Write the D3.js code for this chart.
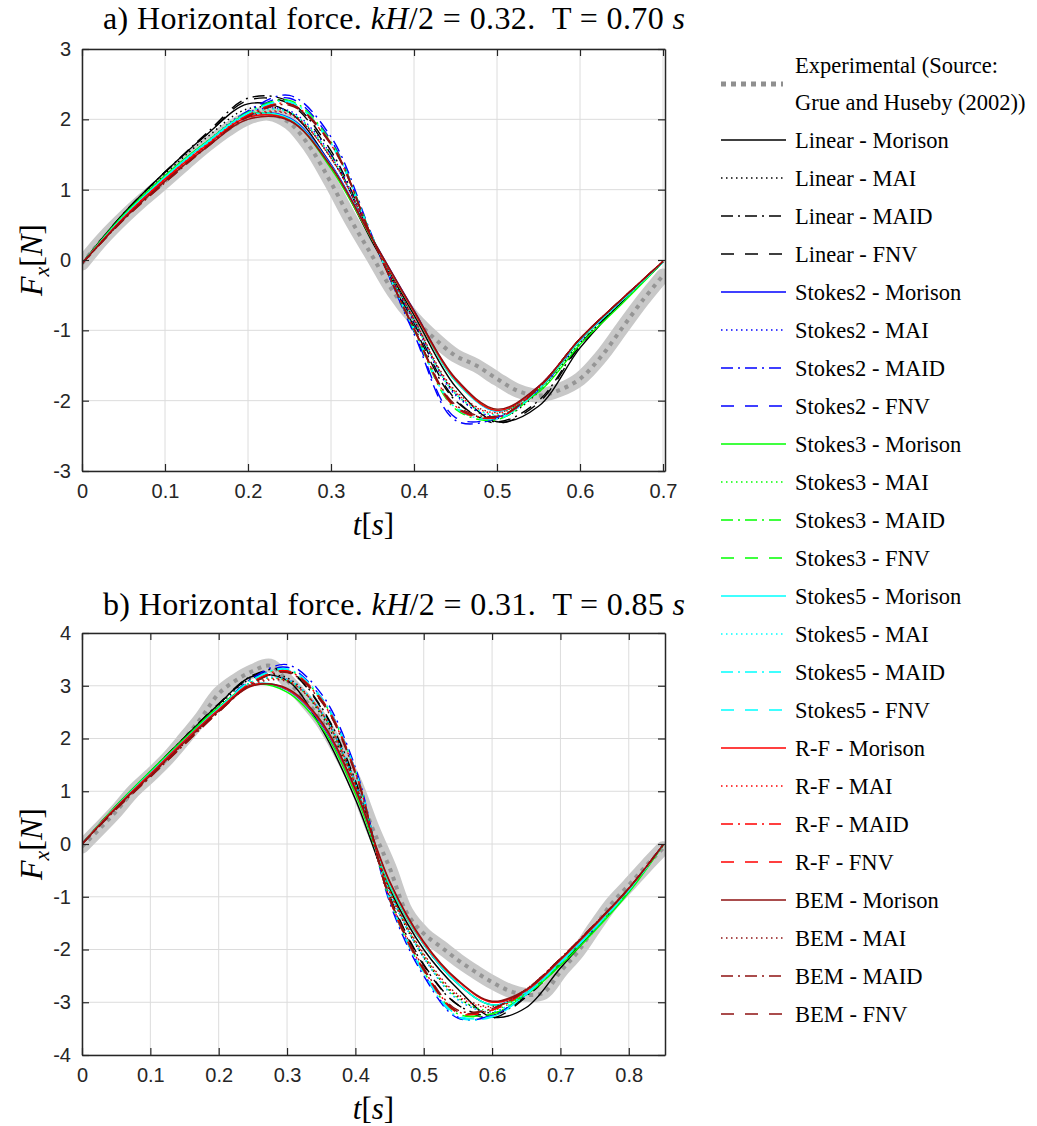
<!DOCTYPE html>
<html><head><meta charset="utf-8">
<script src="https://cdn.jsdelivr.net/npm/d3@7"></script>
<style>body{margin:0;background:#fff} svg{display:block}</style>
</head><body>
<svg id="chart" width="1037" height="1126"></svg>
<script>
// ---------- DATA ----------
// time samples for model curves
const tA = [0,0.05,0.1,0.15,0.2,0.25,0.3,0.35,0.4,0.45,0.5,0.55,0.6,0.65,0.7];
const tB = [0,0.05,0.1,0.15,0.2,0.25,0.3,0.35,0.4,0.45,0.5,0.55,0.6,0.65,0.7,0.75,0.8,0.85];
// rows: Morison, MAI, MAID, FNV
const linearA = [
  [-0.05,0.66,1.25,1.78,2.22,2.1,1.35,0.25,-0.78,-1.8,-2.3,-2.08,-1.25,-0.6,-0.03],
  [-0.05,0.64,1.22,1.74,2.15,2.1,1.45,0.3,-0.85,-1.9,-2.25,-1.88,-1.18,-0.6,-0.03],
  [-0.05,0.66,1.25,1.8,2.3,2.25,1.55,0.3,-0.95,-2.0,-2.3,-2.0,-1.2,-0.6,-0.03],
  [-0.05,0.66,1.25,1.78,2.27,2.22,1.5,0.28,-0.9,-1.98,-2.32,-2.03,-1.22,-0.6,-0.03]
];
const stokes2A = [
  [-0.05,0.62,1.18,1.67,2.06,2.02,1.36,0.3,-0.72,-1.7,-2.15,-1.8,-1.13,-0.58,-0.03],
  [-0.05,0.62,1.18,1.68,2.1,2.12,1.5,0.3,-0.88,-1.92,-2.22,-1.82,-1.14,-0.58,-0.03],
  [-0.05,0.6,1.15,1.66,2.12,2.34,1.75,0.33,-1.05,-2.28,-2.25,-1.85,-1.15,-0.58,-0.03],
  [-0.05,0.6,1.15,1.66,2.1,2.3,1.7,0.3,-1.02,-2.24,-2.24,-1.85,-1.15,-0.58,-0.03]
];
const stokes3A = [
  [-0.05,0.64,1.2,1.68,2.07,2.0,1.3,0.28,-0.74,-1.72,-2.14,-1.88,-1.2,-0.63,-0.03],
  [-0.05,0.63,1.19,1.68,2.08,2.1,1.48,0.3,-0.86,-1.9,-2.2,-1.83,-1.14,-0.58,-0.03],
  [-0.05,0.62,1.17,1.66,2.1,2.27,1.68,0.32,-1.0,-2.12,-2.27,-1.85,-1.15,-0.58,-0.03],
  [-0.05,0.62,1.17,1.66,2.1,2.25,1.65,0.3,-0.98,-2.1,-2.26,-1.85,-1.15,-0.58,-0.03]
];
const stokes5A = [
  [-0.05,0.62,1.18,1.67,2.06,2.01,1.34,0.29,-0.74,-1.72,-2.15,-1.81,-1.14,-0.58,-0.03],
  [-0.05,0.62,1.18,1.67,2.08,2.1,1.47,0.3,-0.86,-1.9,-2.2,-1.82,-1.14,-0.58,-0.03],
  [-0.05,0.61,1.16,1.65,2.09,2.25,1.66,0.32,-0.99,-2.1,-2.26,-1.84,-1.14,-0.58,-0.03],
  [-0.05,0.61,1.16,1.65,2.08,2.24,1.64,0.3,-0.97,-2.08,-2.25,-1.84,-1.14,-0.58,-0.03]
];
const rfA = [
  [-0.05,0.6,1.15,1.63,2.03,1.99,1.33,0.29,-0.74,-1.7,-2.14,-1.8,-1.12,-0.56,-0.02],
  [-0.05,0.6,1.15,1.64,2.05,2.08,1.45,0.3,-0.85,-1.88,-2.18,-1.8,-1.12,-0.56,-0.02],
  [-0.05,0.59,1.13,1.62,2.06,2.22,1.64,0.3,-0.98,-2.08,-2.24,-1.82,-1.12,-0.56,-0.02],
  [-0.05,0.59,1.13,1.62,2.06,2.22,1.66,0.3,-0.98,-2.1,-2.24,-1.82,-1.12,-0.56,-0.02]
];
const bemA = [
  [-0.05,0.58,1.12,1.6,2.0,1.98,1.33,0.3,-0.72,-1.68,-2.12,-1.8,-1.12,-0.56,-0.02],
  [-0.05,0.58,1.12,1.61,2.03,2.07,1.45,0.3,-0.84,-1.86,-2.17,-1.8,-1.12,-0.56,-0.02],
  [-0.05,0.57,1.1,1.6,2.04,2.2,1.64,0.3,-0.97,-2.06,-2.22,-1.82,-1.12,-0.56,-0.02],
  [-0.05,0.57,1.1,1.6,2.04,2.22,1.66,0.3,-0.98,-2.08,-2.23,-1.82,-1.12,-0.56,-0.02]
];
const linearB = [
  [0,0.72,1.37,2.02,2.65,3.18,3.1,2.2,0.85,-0.85,-2.0,-2.75,-3.28,-3.1,-2.35,-1.62,-0.87,-0.02],
  [0,0.71,1.35,1.99,2.62,3.15,3.15,2.45,1.05,-0.9,-2.15,-2.9,-3.2,-2.85,-2.25,-1.58,-0.86,-0.02],
  [0,0.72,1.37,2.02,2.66,3.2,3.3,2.6,1.2,-1.0,-2.3,-3.05,-3.25,-2.88,-2.26,-1.6,-0.87,-0.02],
  [0,0.72,1.37,2.02,2.65,3.18,3.28,2.58,1.15,-0.98,-2.28,-3.05,-3.3,-2.9,-2.28,-1.6,-0.87,-0.02]
];
const stokes2B = [
  [0,0.71,1.35,1.98,2.57,3.02,2.92,2.28,1.0,-0.75,-1.9,-2.65,-3.05,-2.8,-2.22,-1.57,-0.86,-0.02],
  [0,0.7,1.33,1.96,2.57,3.08,3.12,2.5,1.15,-0.9,-2.15,-2.95,-3.18,-2.82,-2.24,-1.58,-0.86,-0.02],
  [0,0.69,1.31,1.94,2.58,3.15,3.4,2.85,1.45,-1.1,-2.5,-3.3,-3.25,-2.85,-2.25,-1.6,-0.88,-0.02],
  [0,0.69,1.31,1.94,2.57,3.12,3.35,2.78,1.4,-1.05,-2.45,-3.28,-3.25,-2.85,-2.25,-1.6,-0.88,-0.02]
];
const stokes3B = [
  [0,0.73,1.38,2.0,2.6,3.02,2.88,2.22,0.95,-0.78,-1.9,-2.65,-3.05,-2.85,-2.3,-1.65,-0.92,-0.03],
  [0,0.71,1.35,1.97,2.58,3.08,3.1,2.48,1.12,-0.88,-2.12,-2.92,-3.15,-2.82,-2.25,-1.6,-0.88,-0.02],
  [0,0.7,1.32,1.95,2.57,3.12,3.3,2.75,1.38,-1.05,-2.42,-3.22,-3.22,-2.85,-2.25,-1.6,-0.88,-0.02],
  [0,0.7,1.32,1.95,2.56,3.1,3.28,2.72,1.35,-1.02,-2.4,-3.2,-3.22,-2.85,-2.25,-1.6,-0.88,-0.02]
];
const stokes5B = [
  [0,0.71,1.35,1.97,2.57,3.03,2.93,2.3,1.02,-0.76,-1.9,-2.65,-3.05,-2.8,-2.22,-1.57,-0.86,-0.02],
  [0,0.7,1.33,1.96,2.57,3.08,3.12,2.52,1.15,-0.9,-2.15,-2.95,-3.18,-2.82,-2.24,-1.58,-0.86,-0.02],
  [0,0.69,1.31,1.94,2.57,3.12,3.32,2.78,1.4,-1.05,-2.45,-3.28,-3.28,-2.85,-2.25,-1.6,-0.88,-0.02],
  [0,0.69,1.31,1.94,2.56,3.1,3.3,2.75,1.37,-1.03,-2.43,-3.25,-3.27,-2.85,-2.25,-1.6,-0.88,-0.02]
];
const rfB = [
  [0,0.7,1.33,1.96,2.55,3.02,2.93,2.3,1.02,-0.72,-1.88,-2.6,-3.0,-2.78,-2.2,-1.55,-0.85,-0.02],
  [0,0.69,1.31,1.93,2.53,3.05,3.1,2.5,1.12,-0.88,-2.1,-2.88,-3.1,-2.75,-2.18,-1.53,-0.84,-0.02],
  [0,0.68,1.29,1.91,2.53,3.08,3.28,2.72,1.35,-1.02,-2.38,-3.18,-3.15,-2.78,-2.18,-1.53,-0.84,-0.02],
  [0,0.68,1.29,1.91,2.52,3.07,3.28,2.75,1.38,-1.05,-2.4,-3.2,-3.15,-2.78,-2.18,-1.53,-0.84,-0.02]
];
const bemB = [
  [0,0.68,1.3,1.93,2.52,3.0,2.95,2.33,1.05,-0.7,-1.85,-2.58,-2.98,-2.76,-2.18,-1.53,-0.84,-0.02],
  [0,0.67,1.29,1.91,2.51,3.03,3.08,2.5,1.12,-0.86,-2.08,-2.85,-3.08,-2.75,-2.17,-1.52,-0.84,-0.02],
  [0,0.66,1.27,1.89,2.5,3.05,3.25,2.7,1.33,-1.0,-2.35,-3.15,-3.12,-2.76,-2.17,-1.52,-0.84,-0.02],
  [0,0.66,1.27,1.89,2.5,3.05,3.26,2.73,1.36,-1.03,-2.38,-3.18,-3.12,-2.76,-2.17,-1.52,-0.84,-0.02]
];
// experimental (Grue and Huseby 2002)
const expTA = [0,0.025,0.05,0.075,0.1,0.125,0.15,0.175,0.2,0.225,0.25,0.275,0.3,0.325,0.35,0.375,0.4,0.425,0.45,0.475,0.5,0.525,0.55,0.575,0.6,0.625,0.65,0.675,0.7];
const expA = [-0.05,0.3,0.6,0.87,1.12,1.38,1.63,1.85,2.02,2.08,1.95,1.6,1.1,0.55,0.05,-0.45,-0.83,-1.12,-1.36,-1.5,-1.69,-1.86,-1.93,-1.85,-1.69,-1.38,-0.98,-0.58,-0.22];
const expTB = [0,0.025,0.05,0.075,0.1,0.125,0.15,0.175,0.2,0.225,0.25,0.275,0.3,0.325,0.35,0.375,0.4,0.425,0.45,0.475,0.5,0.525,0.55,0.575,0.6,0.625,0.65,0.675,0.7,0.725,0.75,0.775,0.8,0.825,0.85];
const expB = [-0.05,0.28,0.62,1.0,1.3,1.62,2.0,2.4,2.85,3.1,3.28,3.38,3.1,2.75,2.35,1.8,1.15,0.3,-0.45,-1.3,-1.7,-1.95,-2.2,-2.42,-2.62,-2.78,-2.86,-2.82,-2.42,-2.05,-1.58,-1.13,-0.78,-0.42,-0.08];

const families = ["Linear","Stokes2","Stokes3","Stokes5","R-F","BEM"];
const methods = ["Morison","MAI","MAID","FNV"];
const expLabel = ["Experimental (Source:","Grue and Huseby (2002))"];
const xTicksA = [0,0.1,0.2,0.3,0.4,0.5,0.6,0.7];
const yTicksA = [-3,-2,-1,0,1,2,3];
const xTicksB = [0,0.1,0.2,0.3,0.4,0.5,0.6,0.7,0.8];
const yTicksB = [-4,-3,-2,-1,0,1,2,3,4];

// ---------- STYLE ----------
const familyColors = ["#000000","#0000ff","#00ff00","#00ffff","#ff0000","#8e1212"];
const methodDash = [null,"1.5,3.5","12,5,2,5","13,11"];
const serif = "'Liberation Serif','Times New Roman',serif";
const sans = "'Liberation Sans',Arial,sans-serif";
const axisColor = "#262626";

const svg = d3.select("#chart");

function drawPanel(cfg){
  const {x, y, xTicks, yTicks, tModel, fam, tExp, exp, id, title, titleY} = cfg;
  const [x0,x1] = x.range(); const [y1,y0] = y.range();
  const g = svg.append("g");
  svg.append("clipPath").attr("id","clip"+id).append("rect")
    .attr("x",x0).attr("y",y0).attr("width",x1-x0).attr("height",y1-y0);
  // grid
  g.append("g").selectAll("line").data(xTicks).join("line")
    .attr("x1",d=>x(d)).attr("x2",d=>x(d)).attr("y1",y0).attr("y2",y1)
    .attr("stroke","#dcdcdc").attr("stroke-width",1);
  g.append("g").selectAll("line").data(yTicks).join("line")
    .attr("y1",d=>y(d)).attr("y2",d=>y(d)).attr("x1",x0).attr("x2",x1)
    .attr("stroke","#dcdcdc").attr("stroke-width",1);

  const plot = g.append("g").attr("clip-path","url(#clip"+id+")");
  const lineExp = d3.line().x((d,i)=>x(tExp[i])).y(d=>y(d)).curve(d3.curveCatmullRom.alpha(0.5));
  plot.append("path").attr("d",lineExp(exp)).attr("fill","none")
    .attr("stroke","#c8c8c8").attr("stroke-width",14).attr("stroke-linejoin","round").attr("stroke-linecap","round");
  plot.append("path").attr("d",lineExp(exp)).attr("fill","none")
    .attr("stroke","#959595").attr("stroke-width",4).attr("stroke-dasharray","4,5");
  const lineM = d3.line().x((d,i)=>x(tModel[i])).y(d=>y(d)).curve(d3.curveCatmullRom.alpha(0.5));
  fam.forEach((rows,fi)=>{
    rows.forEach((vals,mi)=>{
      plot.append("path").attr("d",lineM(vals)).attr("fill","none")
        .attr("stroke",familyColors[fi]).attr("stroke-width",1.4)
        .attr("stroke-dasharray",methodDash[mi]);
    });
  });

  // axes
  const fmt = d=>String(d);
  g.append("g").attr("transform",`translate(0,${y1})`)
    .call(d3.axisBottom(x).tickValues(xTicks).tickFormat(fmt).tickSizeInner(-7).tickSizeOuter(0).tickPadding(13));
  g.append("g").attr("transform",`translate(0,${y0})`)
    .call(d3.axisTop(x).tickValues(xTicks).tickFormat("").tickSizeInner(-7).tickSizeOuter(0));
  g.append("g").attr("transform",`translate(${x0},0)`)
    .call(d3.axisLeft(y).tickValues(yTicks).tickFormat(fmt).tickSizeInner(-7).tickSizeOuter(0).tickPadding(11));
  g.append("g").attr("transform",`translate(${x1},0)`)
    .call(d3.axisRight(y).tickValues(yTicks).tickFormat("").tickSizeInner(-7).tickSizeOuter(0));
  g.selectAll(".domain").attr("stroke",axisColor).attr("stroke-width",1.5);
  g.selectAll(".tick line").attr("stroke",axisColor).attr("stroke-width",1.2);
  g.selectAll(".tick text").attr("fill",axisColor).style("font-family",sans).style("font-size","20px");

  // title
  const tt = svg.append("text").attr("x",103).attr("y",titleY)
    .attr("textLength",582).attr("lengthAdjust","spacing")
    .style("font-family",serif).style("font-size","32px").attr("fill","#000");
  title.forEach(p=>tt.append("tspan").text(p[0]).style("font-style",p[1]?"italic":"normal"));

  // x label
  const xl = svg.append("text").attr("x",(x0+x1)/2).attr("y",y1+64).attr("text-anchor","middle")
    .style("font-family",serif).style("font-size","31px");
  xl.append("tspan").text("t").style("font-style","italic");
  xl.append("tspan").text("[");
  xl.append("tspan").text("s").style("font-style","italic");
  xl.append("tspan").text("]");
  // y label
  const yl = svg.append("text").attr("transform",`translate(42,${(y0+y1)/2}) rotate(-90)`)
    .attr("text-anchor","middle").style("font-family",serif).style("font-size","32px");
  yl.append("tspan").text("F").style("font-style","italic");
  yl.append("tspan").text("x").style("font-style","italic").style("font-size","22px").attr("dy",7);
  yl.append("tspan").text("[").attr("dy",-7);
  yl.append("tspan").text("N").style("font-style","italic");
  yl.append("tspan").text("]");
}

const xA = d3.scaleLinear().domain([0,0.7024]).range([82,665]);
const yA = d3.scaleLinear().domain([-3,3]).range([471,49]);
const xB = d3.scaleLinear().domain([0,0.853]).range([82,665]);
const yB = d3.scaleLinear().domain([-4,4]).range([1055,633]);

drawPanel({x:xA,y:yA,xTicks:xTicksA,yTicks:yTicksA,tModel:tA,
  fam:[linearA,stokes2A,stokes3A,stokes5A,rfA,bemA],tExp:expTA,exp:expA,id:"A",titleY:29,
  title:[["a) Horizontal force. ",0],["kH",1],["/2 = 0.32.\u2002T = 0.70 ",0],["s",1]]});
drawPanel({x:xB,y:yB,xTicks:xTicksB,yTicks:yTicksB,tModel:tB,
  fam:[linearB,stokes2B,stokes3B,stokes5B,rfB,bemB],tExp:expTB,exp:expB,id:"B",titleY:615,
  title:[["b) Horizontal force. ",0],["kH",1],["/2 = 0.31.\u2002T = 0.85 ",0],["s",1]]});

// ---------- LEGEND ----------
const lg = svg.append("g");
const lx0 = 721, lx1 = 786, ltx = 795;
lg.append("line").attr("x1",lx0).attr("x2",lx1-3).attr("y1",84).attr("y2",84)
  .attr("stroke","#8f8f8f").attr("stroke-width",5).attr("stroke-dasharray","5,5");
expLabel.forEach((s,i)=>lg.append("text").attr("x",ltx).attr("y",65+37*i).attr("dy","0.35em")
  .style("font-family",serif).style("font-size","22.5px").text(s));
const entries = [];
families.forEach((f,fi)=>methods.forEach((m,mi)=>entries.push({f,fi,m,mi})));
const ent = lg.selectAll("g.e").data(entries).join("g").attr("class","e")
  .attr("transform",(d,i)=>`translate(0,${140+i*38})`);
ent.append("line").attr("x1",lx0).attr("x2",lx1).attr("y1",0).attr("y2",0)
  .attr("stroke",d=>familyColors[d.fi]).attr("stroke-width",1.5)
  .attr("stroke-dasharray",d=>methodDash[d.mi]);
ent.append("text").attr("x",ltx).attr("y",0).attr("dy","0.35em")
  .style("font-family",serif).style("font-size","22.5px").text(d=>`${d.f} - ${d.m}`);
</script>
</body></html>
